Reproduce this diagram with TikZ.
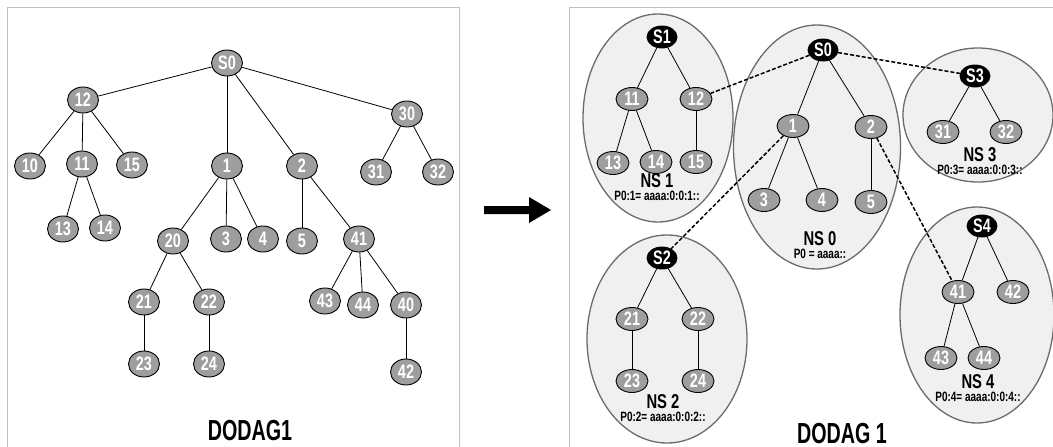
\documentclass[tikz,border=0pt]{standalone}
\usepackage{fontspec}
\usepackage{tikz}
\usetikzlibrary{shapes.geometric}
\newfontfamily\narrowfont[FakeStretch=0.74]{Liberation Sans}
\newfontfamily\titlefont[FakeStretch=0.68]{Liberation Sans}
\definecolor{nodegray}{gray}{0.62}
\definecolor{nsfill}{gray}{0.94}
\definecolor{nsline}{gray}{0.42}
\definecolor{framegray}{gray}{0.75}

\begin{document}
\begin{tikzpicture}[x=1pt, y=-1pt,
	nd/.style={ellipse, draw, line width=0.9pt, fill=nodegray, text=white, inner sep=0pt,
		minimum width=31pt, minimum height=26pt, font=\narrowfont\bfseries\fontsize{19.5}{20}\selectfont},
	rnd/.style={nd, minimum width=32pt, minimum height=23pt},
	sink/.style={nd, fill=black, minimum width=30pt, minimum height=22pt},
	cluster/.style={ellipse, draw=nsline, line width=1.3pt, fill=nsfill, inner sep=0pt},
	nslabel/.style={inner sep=0pt, anchor=south, font=\narrowfont\bfseries\fontsize{20}{20}\selectfont},
	pfx/.style={inner sep=0pt, anchor=north, font=\narrowfont\bfseries\fontsize{13.5}{13.5}\selectfont},
	title/.style={inner sep=0pt, anchor=base, font=\titlefont\bfseries\fontsize{29}{29}\selectfont},
	link/.style={line width=0.8pt},
	tunnel/.style={line width=1.5pt, dash pattern=on 4pt off 2pt}]
\useasboundingbox (0,0) rectangle (1053,447);

\draw[framegray, line width=1pt] (7.5,448) -- (7.5,7) -- (459,7) -- (459,448);
\draw[framegray, line width=1pt] (569,448) -- (569,7) -- (1054,7);

\node[nd] (l0) at (227,63) {S0};
\foreach \n/\x/\y in {12/83/100, 30/407/114, 10/30/166, 11/82/164, 15/132/165,
	1/227/166, 2/302/166, 31/376/172, 32/438/172, 13/63/229, 14/105/228,
	20/173/241, 3/226/239, 4/263/239, 5/302/241, 41/359/239, 21/144/302,
	22/209/302, 43/325/301, 44/363/305, 40/406/305, 23/144/364, 24/209/364, 42/406/372}
	\node[nd] (l\n) at (\x,\y) {\n};
\foreach \a/\b in {0/12, 0/1, 0/2, 0/30, 12/10, 12/11, 12/15, 11/13, 11/14,
	1/20, 1/3, 1/4, 2/5, 2/41, 20/21, 20/22, 21/23, 22/24,
	41/43, 41/44, 41/40, 40/42, 30/31, 30/32}
	\draw[link] (l\a) -- (l\b);
\node[title] (t1) at (250,440) {DODAG1};

\fill (484,206) -- (529,206) -- (529,197) -- (551,210) -- (529,223) -- (529,214) -- (484,214) -- cycle;

\node[cluster, minimum width=150pt, minimum height=208pt] (ns1) at (658,118) {};
\node[cluster, minimum width=167pt, minimum height=244pt] (ns0) at (817,147) {};
\node[cluster, minimum width=150pt, minimum height=134pt] (ns3) at (978,115) {};
\node[cluster, minimum width=160pt, minimum height=208pt] (ns2) at (667,339) {};
\node[cluster, minimum width=154pt, minimum height=216pt] (ns4) at (977,315) {};

\foreach \n/\x/\y in {1/662/37, 0/823/50, 3/975/76, 2/662/258, 4/982/226}
	\node[sink] (rS\n) at (\x,\y) {S\n};
\foreach \n/\x/\y in {11/632/99, 12/696/99, 1/793/126, 2/871/127, 31/943/132,
	32/1006/132, 13/613/163, 14/656/162, 15/696/162, 3/764/200, 4/822/200,
	5/871/202, 41/958/292, 42/1013/292, 21/632/319, 22/698/319, 23/632/381,
	24/698/381, 43/941/358, 44/984/358}
	\node[rnd] (r\n) at (\x,\y) {\n};
\foreach \a/\b in {S1/11, S1/12, 11/13, 11/14, 12/15, S0/1, S0/2, 1/3, 1/4, 2/5,
	S3/31, S3/32, S2/21, S2/22, 21/23, 22/24, S4/41, S4/42, 41/43, 41/44}
	\draw[link] (r\a) -- (r\b);
\draw[tunnel] (rS0) -- (r12);
\draw[tunnel] (rS0) -- (rS3);
\draw[tunnel] (r1) -- (rS2);
\draw[tunnel] (r2) -- (r41);

\node[nslabel] (n1) at (657,188) {NS 1};
\node[pfx] (p1) at (657,191) {P0:1= aaaa:0:0:1::};
\node[nslabel] (n3) at (980,162) {NS 3};
\node[pfx] (p3) at (980,165) {P0:3= aaaa:0:0:3::};
\node[nslabel] (n0) at (820,246) {NS 0};
\node[pfx] (p0) at (820,249) {P0 = aaaa::};
\node[nslabel] (n2) at (663,409) {NS 2};
\node[pfx] (p2) at (663,412) {P0:2= aaaa:0:0:2::};
\node[nslabel] (n4) at (978,389) {NS 4};
\node[pfx] (p4) at (978,392) {P0:4= aaaa:0:0:4::};
\node[title] (t2) at (842,443) {DODAG 1};
\end{tikzpicture}
\end{document}
